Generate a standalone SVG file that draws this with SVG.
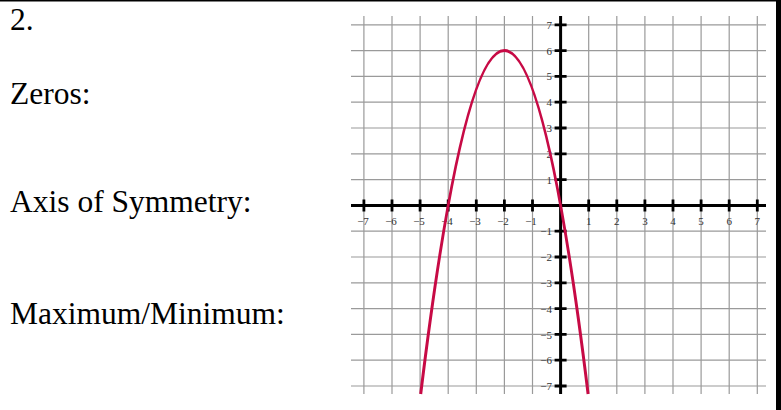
<svg xmlns="http://www.w3.org/2000/svg" width="781" height="410" viewBox="0 0 781 410">
<style>
.lbl{font-family:"Liberation Serif","Times New Roman",serif;font-size:31.5px;fill:#000}
.grid line{stroke:#9a9a9a;stroke-width:1.2}
.axis{stroke:#000;stroke-width:3}
.tick{stroke:#000;stroke-width:2.8}
.nx{font-family:"Liberation Serif","Times New Roman",serif;font-size:11px;fill:#333;text-anchor:middle}
.ny{font-family:"Liberation Serif","Times New Roman",serif;font-size:11px;fill:#333;text-anchor:end}
</style>
<rect width="781" height="410" fill="#fff"/>
<line x1="0" y1="0.75" x2="781" y2="0.75" stroke="#000" stroke-width="1.5"/>
<rect x="776" y="0" width="5" height="410" fill="#000"/>
<g id="texts">
<text class="lbl" x="10" y="29.5">2.</text>
<text class="lbl" x="10" y="103.5">Zeros:</text>
<text class="lbl" x="10" y="212">Axis of Symmetry:</text>
<text class="lbl" x="10" y="323.5">Maximum/Minimum:</text>
</g>
<g id="graph">
<g class="grid">
<line x1="363.9" y1="16" x2="363.9" y2="394"/>
<line x1="392" y1="16" x2="392" y2="394"/>
<line x1="420.1" y1="16" x2="420.1" y2="394"/>
<line x1="448.2" y1="16" x2="448.2" y2="394"/>
<line x1="476.3" y1="16" x2="476.3" y2="394"/>
<line x1="504.4" y1="16" x2="504.4" y2="394"/>
<line x1="532.5" y1="16" x2="532.5" y2="394"/>
<line x1="588.7" y1="16" x2="588.7" y2="394"/>
<line x1="616.8" y1="16" x2="616.8" y2="394"/>
<line x1="644.9" y1="16" x2="644.9" y2="394"/>
<line x1="673" y1="16" x2="673" y2="394"/>
<line x1="701.1" y1="16" x2="701.1" y2="394"/>
<line x1="729.2" y1="16" x2="729.2" y2="394"/>
<line x1="757.3" y1="16" x2="757.3" y2="394"/>
<line x1="351" y1="24.8" x2="766" y2="24.8"/>
<line x1="351" y1="50.6" x2="766" y2="50.6"/>
<line x1="351" y1="76.4" x2="766" y2="76.4"/>
<line x1="351" y1="102.2" x2="766" y2="102.2"/>
<line x1="351" y1="128" x2="766" y2="128"/>
<line x1="351" y1="153.8" x2="766" y2="153.8"/>
<line x1="351" y1="179.6" x2="766" y2="179.6"/>
<line x1="351" y1="231.2" x2="766" y2="231.2"/>
<line x1="351" y1="257" x2="766" y2="257"/>
<line x1="351" y1="282.8" x2="766" y2="282.8"/>
<line x1="351" y1="308.6" x2="766" y2="308.6"/>
<line x1="351" y1="334.4" x2="766" y2="334.4"/>
<line x1="351" y1="360.2" x2="766" y2="360.2"/>
<line x1="351" y1="386" x2="766" y2="386"/>
</g>
<line class="axis" x1="351" y1="205.4" x2="766" y2="205.4"/>
<line class="axis" x1="560.6" y1="16" x2="560.6" y2="394"/>
<path class="tick" d="M363.9 199.4V211.4M392 199.4V211.4M420.1 199.4V211.4M448.2 199.4V211.4M476.3 199.4V211.4M504.4 199.4V211.4M532.5 199.4V211.4M588.7 199.4V211.4M616.8 199.4V211.4M644.9 199.4V211.4M673 199.4V211.4M701.1 199.4V211.4M729.2 199.4V211.4M757.3 199.4V211.4"/>
<path class="tick" d="M554.6 24.8H566.6M554.6 50.6H566.6M554.6 76.4H566.6M554.6 102.2H566.6M554.6 128H566.6M554.6 153.8H566.6M554.6 179.6H566.6M554.6 231.2H566.6M554.6 257H566.6M554.6 282.8H566.6M554.6 308.6H566.6M554.6 334.4H566.6M554.6 360.2H566.6M554.6 386H566.6"/>
<g id="xlabels">
<text class="nx" x="363" y="225">−7</text>
<text class="nx" x="391" y="225">−6</text>
<text class="nx" x="419" y="225">−5</text>
<text class="nx" x="447" y="225">−4</text>
<text class="nx" x="475" y="225">−3</text>
<text class="nx" x="503" y="225">−2</text>
<text class="nx" x="531" y="225">−1</text>
<text class="nx" x="588.7" y="225">1</text>
<text class="nx" x="616.8" y="225">2</text>
<text class="nx" x="644.9" y="225">3</text>
<text class="nx" x="673" y="225">4</text>
<text class="nx" x="701.1" y="225">5</text>
<text class="nx" x="729.2" y="225">6</text>
<text class="nx" x="757.3" y="225">7</text>
</g>
<g id="ylabels">
<text class="ny" x="552" y="28.7">7</text>
<text class="ny" x="552" y="54.5">6</text>
<text class="ny" x="552" y="80.3">5</text>
<text class="ny" x="552" y="106.1">4</text>
<text class="ny" x="552" y="131.9">3</text>
<text class="ny" x="552" y="157.7">2</text>
<text class="ny" x="552" y="183.5">1</text>
<text class="ny" x="552" y="235.3">−1</text>
<text class="ny" x="552" y="261.1">−2</text>
<text class="ny" x="552" y="286.9">−3</text>
<text class="ny" x="552" y="312.7">−4</text>
<text class="ny" x="552" y="338.5">−5</text>
<text class="ny" x="552" y="364.3">−6</text>
<text class="ny" x="552" y="390.1">−7</text>
</g>
<path id="parabola" d="M420.7 394Q504.4 -292.8 588.1 394" fill="none" stroke="#c70a45" stroke-width="3"/>
</g>
</svg>
